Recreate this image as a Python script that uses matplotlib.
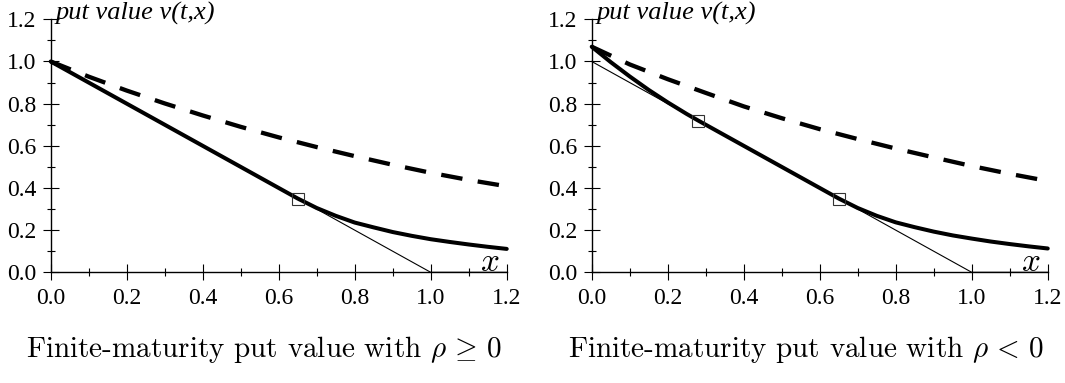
import numpy as np
import matplotlib
matplotlib.use("Agg")
import matplotlib.pyplot as plt
from matplotlib.ticker import MultipleLocator, FormatStrFormatter

plt.rcParams['mathtext.fontset'] = 'cm'

# payoff max(1-x, 0)
payoff_x = [0.0, 1.0, 1.2]
payoff_y = [1.0, 0.0, 0.0]

# left panel (rho >= 0)
left_x = [0.0, 0.65, 0.70, 0.75, 0.80, 0.85, 0.90, 0.95, 1.00, 1.05, 1.10, 1.15, 1.20]
left_v = [1.0, 0.350, 0.305, 0.268, 0.236, 0.213, 0.191, 0.173, 0.157, 0.144, 0.132, 0.121, 0.111]
left_dash_x = [0.0, 0.1, 0.2, 0.3, 0.4, 0.5, 0.6, 0.7, 0.8, 0.9, 1.0, 1.1, 1.2]
left_dash_v = [1.0, 0.928, 0.862, 0.801, 0.744, 0.690, 0.640, 0.594, 0.551, 0.510, 0.472, 0.438, 0.408]
left_marks_x = [0.65]
left_marks_v = [0.35]

# right panel (rho < 0)
right_x = [0.0, 0.05, 0.10, 0.15, 0.20, 0.25, 0.28, 0.65, 0.70, 0.75, 0.80, 0.85,
           0.90, 0.95, 1.00, 1.05, 1.10, 1.15, 1.20]
right_v = [1.07, 0.997, 0.929, 0.865, 0.806, 0.751, 0.72, 0.350, 0.305, 0.268, 0.237,
           0.214, 0.193, 0.175, 0.160, 0.146, 0.134, 0.123, 0.113]
right_dash_x = [0.0, 0.1, 0.2, 0.3, 0.4, 0.5, 0.6, 0.7, 0.8, 0.9, 1.0, 1.1, 1.2]
right_dash_v = [1.07, 0.986, 0.916, 0.851, 0.787, 0.731, 0.679, 0.632, 0.587, 0.545, 0.504, 0.467, 0.433]
right_marks_x = [0.28, 0.65]
right_marks_v = [0.72, 0.35]

captions = [r"Finite-maturity put value with $\rho\,\geq\,0$",
            r"Finite-maturity put value with $\rho\,<\,0$"]

fig = plt.figure(figsize=(10.65, 3.83), dpi=100)
ax1 = fig.add_axes([0.0476, 0.289, 0.4282, 0.6606])
ax2 = fig.add_axes([0.5556, 0.289, 0.4282, 0.6606])

panels = [
    (ax1, left_x, left_v, left_dash_x, left_dash_v, left_marks_x, left_marks_v),
    (ax2, right_x, right_v, right_dash_x, right_dash_v, right_marks_x, right_marks_v),
]

for ax, vx, vy, dx, dy, mx, my in panels:
    ax.plot(payoff_x, payoff_y, color='black', lw=0.8, clip_on=False)
    ax.plot(dx, dy, color='black', lw=3.1, ls=(0, (5, 3.6)), clip_on=False)
    ax.plot(vx, vy, color='black', lw=2.9, solid_capstyle='round', clip_on=False)
    ax.plot(mx, my, ls='none', marker='s', ms=8, mfc='none', mec='#333333', mew=0.8,
            clip_on=False)
    ax.set_xlim(0, 1.2)
    ax.set_ylim(0, 1.2)
    for s in ['top', 'right']:
        ax.spines[s].set_visible(False)
    for s in ['left', 'bottom']:
        ax.spines[s].set_linewidth(1.0)
    ax.xaxis.set_major_locator(MultipleLocator(0.2))
    ax.xaxis.set_minor_locator(MultipleLocator(0.1))
    ax.yaxis.set_major_locator(MultipleLocator(0.2))
    ax.yaxis.set_minor_locator(MultipleLocator(0.1))
    ax.xaxis.set_major_formatter(FormatStrFormatter('%.1f'))
    ax.yaxis.set_major_formatter(FormatStrFormatter('%.1f'))
    ax.tick_params(which='major', direction='inout', length=11, width=0.8,
                   labelsize=17, pad=6)
    ax.tick_params(which='minor', direction='inout', length=6, width=0.8)
    ax.tick_params(axis='y', which='major', pad=5)
    for lab in ax.get_xticklabels() + ax.get_yticklabels():
        lab.set_family('Liberation Serif')
    ax.text(0.012, 1.2, "put value v(t,x)", family='Liberation Serif', style='italic',
            fontsize=19, va='baseline', ha='left')
    ax.text(1.155, 0.008, r"$x$", fontsize=24, va='baseline', ha='center')

fig.text(264 / 1065, 1 - 357 / 383, captions[0], family='cmr10', fontsize=21,
         ha='center', va='baseline')
fig.text(806 / 1065, 1 - 357 / 383, captions[1], family='cmr10', fontsize=21,
         ha='center', va='baseline')

fig.savefig("out.png", dpi=100)
